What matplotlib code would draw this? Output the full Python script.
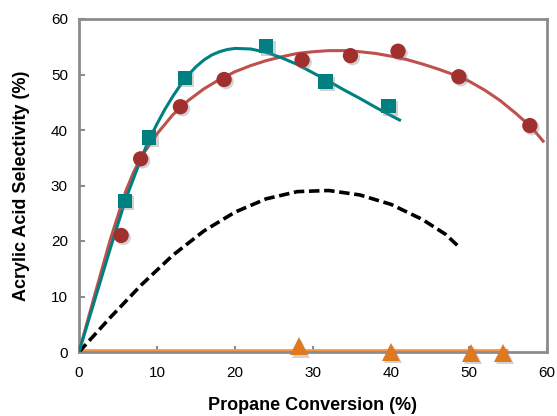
import matplotlib
matplotlib.use("Agg")
import matplotlib.pyplot as plt
import matplotlib.patheffects as pe

plt.rcParams['font.family'] = ['Liberation Sans', 'DejaVu Sans']

# Data points
red_x = [5.4, 7.9, 13.0, 18.6, 28.6, 34.8, 40.9, 48.7, 57.8]
red_y = [21.0, 34.8, 44.2, 49.1, 52.6, 53.4, 54.2, 49.6, 40.8]
teal_x = [5.9, 9.0, 13.6, 24.0, 31.6, 39.7]
teal_y = [27.2, 38.7, 49.4, 55.1, 48.7, 44.3]
orange_x = [28.2, 40.0, 50.3, 54.4]
orange_y = [1.0, 0.0, -0.2, -0.2]

# Trend curves
red_cx = [0, 2, 4, 6, 7, 8, 10, 12, 14, 16, 18, 20, 22, 24, 26, 28, 30, 32, 34, 36,
          38, 40, 42, 44, 46, 48, 50, 52, 54, 56, 58, 59.5]
red_cy = [0, 10.2, 20.2, 29.0, 32.4, 35.2, 39.3, 42.7, 45.3, 47.4, 49.1, 50.5, 51.6,
          52.5, 53.2, 53.8, 54.1, 54.3, 54.3, 54.1, 53.8, 53.3, 52.7, 51.9, 51.0,
          50.0, 48.8, 47.2, 45.3, 43.0, 40.5, 38.0]
teal_cx = [0, 2, 4, 6, 8, 9, 10, 11, 12, 13, 14, 15, 16, 17, 18, 19, 20, 22, 24, 26,
           28, 30, 32, 34, 36, 38, 40, 41.1]
teal_cy = [0, 9.3, 18.6, 27.6, 35.0, 38.3, 41.1, 43.7, 46.0, 48.1, 49.9, 51.4, 52.6,
           53.5, 54.1, 54.5, 54.7, 54.6, 54.0, 53.0, 51.8, 50.3, 48.8, 47.2, 45.7,
           44.1, 42.6, 41.8]
dash_x = [0, 4, 8, 12, 16, 20, 24, 28, 32, 36, 40, 44, 47, 48.9]
dash_y = [0, 6.2, 12.1, 17.4, 21.8, 25.2, 27.6, 28.9, 29.1, 28.3, 26.6, 23.9, 21.2, 18.7]
orange_lx = [0, 55]
orange_ly = [0.3, 0.3]

xticks = [0, 10, 20, 30, 40, 50, 60]
yticks = [0, 10, 20, 30, 40, 50, 60]

fig = plt.figure(figsize=(5.57, 4.16), dpi=100)
ax = fig.add_axes([79/557, 1-352/416, (547-79)/557, (352-19)/416])

shadow = [pe.SimplePatchShadow(offset=(1.5, -1.5), alpha=0.35, shadow_rgbFace='gray'), pe.Normal()]

ax.plot(orange_lx, orange_ly, color='#F79646', lw=2, solid_capstyle='butt', zorder=2, clip_on=False)
ax.plot(dash_x, dash_y, color='black', lw=2.6, dashes=(2.9, 1.3), zorder=3,
        solid_joinstyle='round')
ax.plot(red_cx, red_cy, color='#C0504D', lw=2.2, zorder=3, solid_joinstyle='round')
ax.plot(teal_cx, teal_cy, color='#008080', lw=2.2, zorder=3, solid_joinstyle='round')

ax.plot(red_x, red_y, 'o', color='#A0302D', markersize=11, markeredgewidth=0,
        zorder=5, path_effects=shadow)
ax.plot(teal_x, teal_y, 's', color='#008080', markersize=10.5, markeredgewidth=0,
        zorder=5, path_effects=shadow)
ax.plot(orange_x, orange_y, '^', color='#E07820', markersize=13, markeredgewidth=0,
        zorder=5, clip_on=False, path_effects=shadow)

ax.set_xlim(0, 60)
ax.set_ylim(0, 60)
ax.set_xticks(xticks)
ax.set_yticks(yticks)
for s in ax.spines.values():
    s.set_color('#8C8C8C')
    s.set_linewidth(2.0)
ax.tick_params(direction='in', length=4, width=1.5, color='#8C8C8C', labelsize=11,
               pad=8)
ax.tick_params(axis='x', pad=10)
ax.set_xlabel('Propane Conversion (%)', fontsize=13, fontweight='bold', labelpad=12)
ax.set_ylabel('Acrylic Acid Selectivity (%)', fontsize=13, fontweight='bold', labelpad=15)

fig.savefig('out.png', dpi=100)
